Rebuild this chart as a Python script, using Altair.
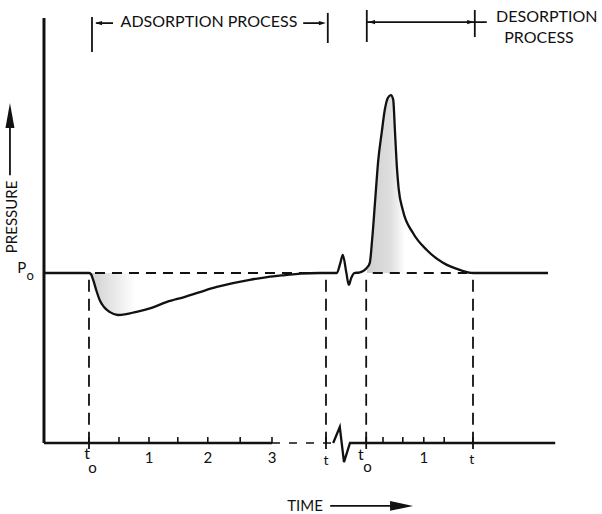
import altair as alt
import pandas as pd

# ---- main pressure trace (time units: t0 = 0, pressure units: P0 = 1) ----
time = [-0.75, 0.0, 0.03, 0.07, 0.12, 0.18, 0.25, 0.35, 0.48, 0.62, 0.77, 1.0, 1.3, 1.6,
        1.85, 2.13, 2.4, 2.68, 2.97, 3.27, 3.52, 3.85, 4.13, 4.19, 4.23, 4.29, 4.33, 4.37,
        4.42, 4.5, 4.57, 4.63, 4.68, 4.72, 4.77, 4.82, 4.88, 4.93, 4.98, 5.03, 5.07, 5.1,
        5.13, 5.16, 5.23, 5.4, 5.63, 5.9, 6.18, 6.4, 7.65]
pressure = [1.0, 1.0, 0.995, 0.96, 0.9, 0.84, 0.80, 0.77, 0.753, 0.758, 0.77, 0.79, 0.83, 0.86,
            0.888, 0.918, 0.941, 0.96, 0.976, 0.988, 0.997, 1.0, 1.0, 1.06, 1.106, 1.0, 0.93, 0.97,
            1.0, 1.003, 1.012, 1.03, 1.06, 1.2, 1.43, 1.66, 1.83, 1.96, 2.03, 2.047, 2.02, 1.83,
            1.63, 1.5, 1.37, 1.235, 1.135, 1.06, 1.018, 1.0, 1.0]

# ---- time axis trace ----
axis_solid_t = [-0.75, 3.05]
axis_dashed_t = [3.05, 4.07]
axis_wiggle_t = [4.07, 4.18, 4.25, 4.35, 7.77]
axis_wiggle_p = [0.0, 0.094, -0.112, 0.0, 0.0]

tick_t = [0.5, 1.0, 1.48, 1.98, 2.52, 3.05, 4.9, 5.23, 5.58, 5.92]
event_t = [0.0, 3.95, 4.62, 6.40]          # t0, t, t0, t

# ---- text labels ----
label_text = ["t", "o", "1", "2", "3", "t", "t", "o", "1", "t", "P", "o"]
label_x = [-0.03, 0.06, 1.0, 1.98, 3.05, 3.95, 4.53, 4.64, 5.58, 6.38, -1.12, -0.98]
label_y = [-0.065, -0.145, -0.088, -0.088, -0.088, -0.108, -0.072, -0.14, -0.088, -0.102, 1.03, 0.98]
label_size = [16, 15, 15, 15, 15, 14, 16, 15, 15, 14, 15, 13]

head_text = ["ADSORPTION PROCESS", "DESORPTION", "PROCESS", "TIME"]
head_x = [2.0, 7.63, 7.5, 3.6]
head_y = [2.474, 2.506, 2.382, -0.37]
head_size = [16, 16, 16, 15]

# ---- bracket segments (header) and big arrow shafts ----
seg_x = [0.05, 3.98, 0.12, 3.57, 4.63, 6.43, 4.63, -1.317, 4.02]
seg_x2 = [0.05, 3.98, 0.40, 3.90, 4.63, 6.43, 6.63, -1.317, 5.10]
seg_y = [2.30, 2.353, 2.47, 2.47, 2.359, 2.388, 2.476, 1.575, -0.37]
seg_y2 = [2.506, 2.53, 2.47, 2.47, 2.547, 2.547, 2.476, 1.87, -0.37]

XS = alt.Scale(domain=[-1.483, 8.55], nice=False, zero=False)
YS = alt.Scale(domain=[-0.4176, 2.606], nice=False, zero=False)


def X(f="t"):
    return alt.X(f"{f}:Q", scale=XS, axis=None)


def Y(f="p"):
    return alt.Y(f"{f}:Q", scale=YS, axis=None)


curve = pd.DataFrame({"t": time, "p": pressure})

dip_area = alt.Chart(curve).transform_filter("datum.t >= 0 && datum.t <= 0.8").mark_area(
    interpolate="monotone",
    color=alt.Gradient(gradient="linear", x1=0, x2=1, y1=0, y2=0,
                       stops=[alt.GradientStop(color="#cfcfcf", offset=0),
                              alt.GradientStop(color="#e6e6e6", offset=0.5),
                              alt.GradientStop(color="#ffffff", offset=1)]),
).encode(x=X(), y=Y(), y2=alt.datum(1.0))

peak_area = alt.Chart(curve).transform_filter("datum.t >= 4.63 && datum.t <= 6.4").mark_area(
    interpolate="monotone",
    color=alt.Gradient(gradient="linear", x1=0, x2=1, y1=0, y2=0,
                       stops=[alt.GradientStop(color="#d0d0d0", offset=0),
                              alt.GradientStop(color="#dedede", offset=0.22),
                              alt.GradientStop(color="#ffffff", offset=0.36)]),
).encode(x=X(), y=Y(), y2=alt.datum(1.0))

line = alt.Chart(curve).mark_line(interpolate="monotone", color="#111", strokeWidth=2.3).encode(
    x=X(), y=Y())

# dashed P0 reference
p0 = pd.DataFrame({"t": [0.1, 4.73], "t2": [3.93, 6.3], "p": [1.0, 1.0]})
p0_rule = alt.Chart(p0).mark_rule(color="#111", strokeWidth=1.8, strokeDash=[10, 7]).encode(
    x=X(), x2="t2:Q", y=Y())

# dashed event verticals
ev = pd.DataFrame({"t": event_t, "p": [0.96] * 4, "p2": [-0.035] * 4})
ev_rule = alt.Chart(ev).mark_rule(color="#111", strokeWidth=1.8, strokeDash=[12, 7]).encode(
    x=X(), y=Y(), y2="p2:Q")
ev_cross = alt.Chart(pd.DataFrame({"t": event_t, "p": [0.035] * 4, "p2": [-0.035] * 4})).mark_rule(
    color="#111", strokeWidth=1.8).encode(x=X(), y=Y(), y2="p2:Q")

# axes
y_axis = alt.Chart(pd.DataFrame({"t": [-0.75], "p": [0.0], "p2": [2.5]})).mark_rule(
    color="#111", strokeWidth=3).encode(x=X(), y=Y(), y2="p2:Q")
x_solid = alt.Chart(pd.DataFrame({"t": [axis_solid_t[0]], "t2": [axis_solid_t[1]], "p": [0.0]})).mark_rule(
    color="#111", strokeWidth=2.6).encode(x=X(), x2="t2:Q", y=Y())
x_dash = alt.Chart(pd.DataFrame({"t": [axis_dashed_t[0]], "t2": [axis_dashed_t[1]], "p": [0.0]})).mark_rule(
    color="#111", strokeWidth=1.5, strokeDash=[8, 9]).encode(x=X(), x2="t2:Q", y=Y())
x_wiggle = alt.Chart(pd.DataFrame({"t": axis_wiggle_t, "p": axis_wiggle_p})).mark_line(
    color="#111", strokeWidth=2.3).encode(x=X(), y=Y())
ticks = alt.Chart(pd.DataFrame({"t": tick_t, "p": [0.0] * len(tick_t), "p2": [0.035] * len(tick_t)})).mark_rule(
    color="#111", strokeWidth=1.6).encode(x=X(), y=Y(), y2="p2:Q")

# header brackets and arrow shafts
segs = pd.DataFrame({"t": seg_x, "t2": seg_x2, "p": seg_y, "p2": seg_y2})
seg_rule = alt.Chart(segs).mark_rule(color="#111", strokeWidth=1.8).encode(
    x=X(), x2="t2:Q", y=Y(), y2="p2:Q")

right_head = "M-1,-0.6 L1,0 L-1,0.6 Z"
left_head = "M1,-0.6 L-1,0 L1,0.6 Z"
small_heads_l = alt.Chart(pd.DataFrame({"t": [0.16, 4.71], "p": [2.47, 2.476]})).mark_point(
    shape=left_head, size=49, filled=True, color="#111", opacity=1).encode(x=X(), y=Y())
small_heads_r = alt.Chart(pd.DataFrame({"t": [3.89, 6.36], "p": [2.47, 2.476]})).mark_point(
    shape=right_head, size=49, filled=True, color="#111", opacity=1).encode(x=X(), y=Y())
up_head = alt.Chart(pd.DataFrame({"t": [-1.317], "p": [1.926]})).mark_point(
    shape="M-0.36,1 L0,-1 L0.36,1 Z", size=625, filled=True, color="#111", opacity=1).encode(x=X(), y=Y())
time_head = alt.Chart(pd.DataFrame({"t": [5.21], "p": [-0.37]})).mark_point(
    shape="M-1,-0.43 L1,0 L-1,0.43 Z", size=529, filled=True, color="#111", opacity=1).encode(x=X(), y=Y())

labels = alt.Chart(pd.DataFrame({"t": label_x, "p": label_y, "txt": label_text, "s": label_size})).mark_text(
    font="Lato", color="#111", baseline="middle", align="center").encode(
    x=X(), y=Y(), text="txt:N", size=alt.Size("s:Q", scale=None, legend=None))

heads = alt.Chart(pd.DataFrame({"t": head_x, "p": head_y, "txt": head_text, "s": head_size})).mark_text(
    font="Lato", color="#111", baseline="middle", align="center").encode(
    x=X(), y=Y(), text="txt:N", size=alt.Size("s:Q", scale=None, legend=None))

pressure_lbl = alt.Chart(pd.DataFrame({"t": [-1.283], "p": [1.33], "txt": ["PRESSURE"]})).mark_text(
    font="Lato", fontSize=15, color="#111", baseline="middle", align="center", angle=270).encode(
    x=X(), y=Y(), text="txt:N")

chart = alt.layer(
    dip_area, peak_area, p0_rule, ev_rule, ev_cross, line, y_axis, x_solid, x_dash, x_wiggle,
    ticks, seg_rule, small_heads_l, small_heads_r, up_head, time_head, labels, heads, pressure_lbl
).properties(
    width=602, height=514, autosize=alt.AutoSizeParams(type="none"), padding=0,
    background="white"
).configure_view(stroke=None)

chart.save("out.html", embed_options={"renderer": "svg", "actions": False})
